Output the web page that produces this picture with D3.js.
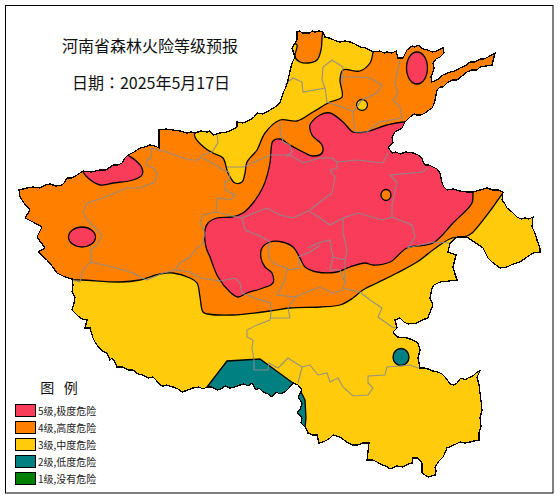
<!DOCTYPE html>
<html>
<head>
<meta charset="utf-8">
<script src="https://cdn.jsdelivr.net/npm/d3@7"></script>
<style>
html, body { margin: 0; background: #fff; }
svg { display: block; font-family: "Noto Sans CJK SC", sans-serif; }
</style>
</head>
<body>
<div id="chart"></div>
<script>
// Title lines
const titles = ['河南省森林火险等级预报', '日期：2025年5月17日'];

// Legend, worst level first
const legendLabels = ['5级,极度危险', '4级,高度危险', '3级,中度危险', '2级,低度危险', '1级,没有危险'];
const levelColors = ['#f93c5a', '#ff8000', '#ffcb0a', '#008080', '#008000'];

// All outlines are [east, north] on a map grid
const province = [[279,446],[282,447],[284,445],[287,445],[292,445],[294,447],[297,446],[301,447],[305,446],[307,441],[311,440],[314,439],[318,437],[322,436],[327,437],[332,436],[337,434],[342,431],[348,430],[355,426],[362,427],[366,425],[369,426],[374,425],[378,427],[380,420],[385,420],[387,424],[389,428],[394,432],[397,431],[400,433],[405,429],[410,428],[414,426],[419,427],[422,429],[425,430],[426,425],[422,421],[418,419],[415,415],[416,410],[415,406],[413,401],[414,396],[419,398],[425,403],[432,406],[437,407],[442,410],[447,412],[452,416],[457,416],[462,419],[466,419],[470,421],[477,425],[474,413],[468,412],[462,411],[459,408],[454,408],[449,406],[444,402],[439,398],[434,398],[429,395],[425,391],[422,391],[419,388],[418,383],[417,378],[416,374],[414,370],[411,368],[407,365],[403,363],[399,363],[396,364],[392,361],[387,356],[384,350],[377,346],[374,341],[375,335],[370,331],[374,325],[378,326],[382,324],[388,326],[395,325],[400,323],[404,320],[405,316],[407,313],[411,313],[415,311],[419,309],[422,305],[423,300],[424,295],[426,291],[429,288],[435,289],[442,287],[449,286],[455,286],[462,288],[469,290],[475,288],[480,288],[485,286],[484,278],[487,274],[489,270],[494,266],[499,261],[503,259],[507,260],[511,259],[515,261],[514,251],[517,245],[519,238],[522,230],[522,226],[515,225],[509,221],[502,216],[495,214],[489,211],[482,210],[478,213],[474,216],[470,220],[467,226],[465,230],[449,241],[439,241],[432,235],[430,226],[438,223],[435,211],[437,204],[439,198],[431,197],[422,196],[416,193],[414,190],[412,180],[415,173],[412,166],[410,160],[404,158],[399,155],[390,154],[386,156],[382,160],[377,158],[379,150],[375,146],[379,141],[389,140],[395,138],[400,135],[402,128],[400,120],[402,110],[406,110],[410,109],[415,107],[420,106],[424,104],[427,101],[430,97],[432,94],[436,93],[439,95],[442,99],[444,100],[447,98],[450,100],[455,102],[459,106],[462,107],[459,101],[461,93],[462,85],[463,77],[464,68],[462,60],[463,52],[461,45],[461,38],[456,37],[452,36],[447,35],[442,36],[436,33],[429,30],[427,25],[425,21],[421,17],[417,11],[418,7],[417,3],[410,1],[404,5],[404,15],[400,20],[395,20],[394,15],[390,14],[385,11],[379,12],[372,9],[368,12],[364,13],[359,16],[355,18],[349,18],[351,35],[345,35],[340,33],[335,33],[330,35],[326,38],[322,41],[315,43],[312,40],[309,38],[305,36],[301,35],[299,43],[295,43],[290,45],[288,50],[283,55],[284,60],[279,66],[282,68],[284,75],[280,81],[284,88],[280,93],[275,95],[271,90],[267,86],[262,84],[258,86],[254,81],[250,84],[245,86],[241,90],[238,88],[234,95],[230,92],[226,94],[222,93],[217,91],[212,90],[207,92],[203,89],[199,88],[194,91],[189,91],[185,89],[181,91],[175,90],[170,88],[164,86],[160,89],[155,91],[151,92],[149,93],[145,92],[142,93],[138,98],[135,101],[130,100],[125,103],[120,104],[115,108],[110,108],[105,111],[99,111],[97,116],[94,120],[92,118],[89,125],[84,127],[79,133],[77,136],[75,140],[72,150],[67,150],[69,158],[64,159],[60,162],[57,165],[54,168],[56,175],[57,181],[54,186],[55,193],[54,199],[47,201],[39,205],[34,212],[29,218],[20,226],[27,230],[19,241],[24,251],[15,256],[7,260],[12,268],[6,275],[2,281],[1,288],[9,290],[15,291],[22,290],[27,293],[32,294],[38,292],[44,293],[47,296],[49,300],[54,300],[59,303],[62,305],[65,307],[73,306],[82,308],[88,308],[95,313],[100,313],[104,315],[107,320],[110,323],[116,326],[122,330],[127,331],[132,333],[137,332],[141,330],[141,348],[148,349],[155,348],[162,347],[169,345],[173,346],[177,345],[183,347],[189,346],[192,347],[195,343],[202,345],[209,346],[214,348],[219,351],[219,356],[225,355],[232,358],[236,361],[239,365],[245,364],[252,368],[257,371],[262,375],[265,385],[268,391],[270,398],[272,407],[274,415],[277,421],[274,430],[279,438]];

// Danger zones, each runs past the province edge and gets clipped
const zone4 = [[32,197],[54,198],[64,198],[102,196],[122,198],[142,204],[155,205],[172,200],[179,195],[182,181],[185,166],[190,164],[215,163],[252,167],[272,170],[302,171],[322,173],[335,180],[345,188],[359,195],[379,205],[399,216],[419,231],[434,240],[449,242],[454,245],[475,271],[485,285],[497,298],[530,470],[-10,470],[-10,197]];
const zone3North = [[177,358],[177,341],[187,330],[195,325],[205,320],[210,305],[217,295],[224,296],[227,305],[229,316],[239,328],[247,345],[262,358],[279,357],[295,366],[312,376],[324,381],[322,398],[325,408],[342,407],[352,415],[355,426],[357,455],[177,455]];
const zone4North = [[275,436],[279,433],[277,421],[282,416],[290,415],[299,418],[303,428],[304,440],[304,450],[277,450]];
const zone5 = [[402,353],[387,356],[369,353],[347,346],[335,346],[325,356],[312,365],[302,363],[292,353],[294,343],[304,333],[304,325],[295,322],[285,326],[272,333],[262,339],[255,337],[253,328],[252,315],[245,291],[235,275],[225,265],[214,261],[199,260],[190,255],[187,248],[188,231],[192,221],[200,201],[212,186],[220,181],[229,185],[245,190],[255,195],[254,205],[247,211],[243,220],[244,230],[252,236],[264,236],[275,231],[282,220],[287,211],[299,206],[319,206],[332,211],[347,215],[355,213],[372,216],[389,230],[415,235],[435,255],[454,275],[455,285],[457,308],[422,358]];
const zone5West = [[62,313],[65,306],[70,300],[82,293],[95,295],[115,298],[124,303],[124,310],[117,318],[110,323],[102,333],[62,328]];
const zone2 = [[209,117],[242,119],[275,95],[275,70],[189,70],[189,91]];
const zone2Edge = [[282,88],[287,78],[288,60],[287,50],[272,50],[272,88]];

// Small round patches: east, north, radius east, radius north, level index
const spots = [[399,410,10.5,16,0],[64,241,13.5,10,0],[344,373,5.5,5.5,2],[368,283,5,5.5,1],[383,121,8,8.5,3]];

// City boundaries
const cityLines = [
    [[132,330],[134,321],[129,318],[128,313],[135,310],[139,305],[137,296],[129,293],[122,290],[109,290],[92,283],[79,278],[69,275],[65,266],[69,258],[77,250],[84,243],[79,233],[72,228],[74,218],[65,208],[62,196],[54,198]],
    [[132,330],[149,326],[162,321],[172,318],[180,318],[185,323],[194,326],[200,335],[199,345]],
    [[185,320],[194,315],[205,308],[211,306],[212,298],[207,296],[207,288],[217,283],[212,278],[199,280],[198,266],[185,263],[182,255],[187,245],[184,233],[179,230],[172,221],[162,215],[157,208],[145,205],[129,198]],
    [[72,216],[95,211],[115,205],[124,200],[129,198]],
    [[157,208],[172,206],[182,200],[202,197],[217,200],[222,195],[224,185],[237,180],[252,175],[253,166],[252,158],[239,153],[229,148],[229,141],[235,138],[234,130],[236,118],[236,108],[250,108],[251,115],[260,110],[270,120],[284,111],[280,95]],
    [[284,111],[292,113],[300,103],[309,105],[312,96],[320,100],[325,91],[335,82],[350,83],[355,90],[350,95],[350,102],[367,103],[369,111],[392,113],[400,110]],
    [[252,160],[272,160],[270,170],[277,181],[259,183],[267,198],[269,210],[259,213],[252,218],[250,228],[252,236],[244,241],[227,248],[224,260]],
    [[198,266],[209,263],[224,260],[249,270],[262,263],[275,260],[292,268],[302,276],[314,285],[317,301],[312,308],[319,310],[319,316]],
    [[292,266],[302,260],[312,253],[325,260],[340,265],[364,258],[374,261],[394,253],[397,241],[390,230]],
    [[209,311],[225,311],[230,313],[252,323],[272,323],[285,315],[302,320],[314,320],[319,316],[339,318],[365,315],[370,325]],
    [[262,356],[262,348],[265,336],[272,333],[274,326],[269,321]],
    [[374,261],[374,273],[379,296],[372,303],[405,306],[409,310]],
    [[325,260],[325,245],[329,228],[327,218],[327,195],[325,190],[342,186],[352,178],[364,170],[360,161],[374,151],[379,150]],
    [[290,230],[300,235],[312,238],[315,221],[312,208],[322,208],[327,195]],
    [[327,218],[315,221]],
    [[277,181],[289,186],[302,191],[315,185],[325,188]],
    [[269,208],[282,210],[280,221],[292,226],[302,233]],
    [[389,230],[415,236],[432,235],[439,242]],
    [[267,393],[275,400],[284,396],[285,386],[307,390],[304,398],[305,411],[314,418],[325,411],[324,401],[325,393]],
    [[307,390],[309,376],[327,370],[335,366],[337,346]],
    [[324,401],[340,401],[352,400],[364,393],[359,385],[344,378],[335,366]],
    [[382,418],[377,395],[380,385],[375,378],[382,371],[384,360],[362,356],[349,346],[337,346]]
];

const width = 560, height = 500;

const svg = d3.select('#chart').append('svg')
    .attr('width', width)
    .attr('height', height);

const x = d3.scaleLinear().domain([0, 522]).range([18, 540]);
const y = d3.scaleLinear().domain([0, 448]).range([478, 30]);

const straight = d3.line().x(d => x(d[0])).y(d => y(d[1]));
const smooth = d3.line().x(d => x(d[0])).y(d => y(d[1])).curve(d3.curveCatmullRomClosed);

// Frame
svg.append('rect')
    .attr('x', 5.5).attr('y', 5.5)
    .attr('width', 547.5).attr('height', 487.5)
    .attr('fill', 'none')
    .attr('stroke', '#000');

svg.append('clipPath').attr('id', 'province-clip')
    .append('path').attr('d', straight(province) + 'Z');

const map = svg.append('g').attr('clip-path', 'url(#province-clip)');

// Base colour is level 3, the rest is painted on top
map.append('path').attr('d', straight(province) + 'Z').attr('fill', levelColors[2]);

const drawZone = function(points, level, line, closed) {
    map.append('path')
        .attr('d', line(points) + (closed ? 'Z' : ''))
        .attr('fill', levelColors[level])
        .attr('stroke', '#000')
        .attr('stroke-width', 1.3);
};

drawZone(zone4, 1, smooth);
drawZone(zone3North, 2, smooth);
drawZone(zone4North, 1, smooth);
drawZone(zone5, 0, smooth);
drawZone(zone5West, 0, smooth);
drawZone(zone2, 3, straight, true);
drawZone(zone2Edge, 3, straight, true);

map.selectAll('ellipse').data(spots).join('ellipse')
    .attr('cx', d => x(d[0]))
    .attr('cy', d => y(d[1]))
    .attr('rx', d => x(d[2]) - x(0))
    .attr('ry', d => y(0) - y(d[3]))
    .attr('fill', d => levelColors[d[4]])
    .attr('stroke', '#000')
    .attr('stroke-width', 1.3);

svg.append('g').selectAll('path').data(cityLines).join('path')
    .attr('d', straight)
    .attr('fill', 'none')
    .attr('stroke', '#8c8c8c')
    .attr('stroke-opacity', 0.9)
    .attr('stroke-width', 1.1);

svg.append('path')
    .attr('d', straight(province) + 'Z')
    .attr('fill', 'none')
    .attr('stroke', '#000')
    .attr('stroke-width', 1.3)
    .attr('shape-rendering', 'crispEdges');

// Titles, the date line uses the TC face for its centred colon
svg.selectAll('text.title').data(titles).join('text')
    .attr('class', 'title')
    .attr('x', (d, i) => i == 0 ? 150 : 151)
    .attr('y', (d, i) => i == 0 ? 52 : 89)
    .attr('text-anchor', 'middle')
    .attr('font-size', 16)
    .attr('fill', '#111')
    .style('font-family', (d, i) => i == 0 ? null : '"Noto Sans CJK TC", sans-serif')
    .text(d => d);

// Legend
svg.append('text')
    .attr('x', 59).attr('y', 393)
    .attr('text-anchor', 'middle')
    .attr('font-size', 14)
    .attr('fill', '#111')
    .attr('xml:space', 'preserve')
    .style('white-space', 'pre')
    .text('图   例');

const legendY = d3.scaleBand().domain(legendLabels).range([404, 489]);

svg.selectAll('rect.key').data(legendLabels).join('rect')
    .attr('class', 'key')
    .attr('x', 15.5)
    .attr('y', d => legendY(d) + 0.5)
    .attr('width', 20)
    .attr('height', 12)
    .attr('fill', (d, i) => levelColors[i])
    .attr('stroke', '#000');

svg.selectAll('text.key').data(legendLabels).join('text')
    .attr('class', 'key')
    .attr('x', 38)
    .attr('y', d => legendY(d) + 11)
    .attr('font-size', 10)
    .attr('fill', '#222')
    .text(d => d);
</script>
</body>
</html>
